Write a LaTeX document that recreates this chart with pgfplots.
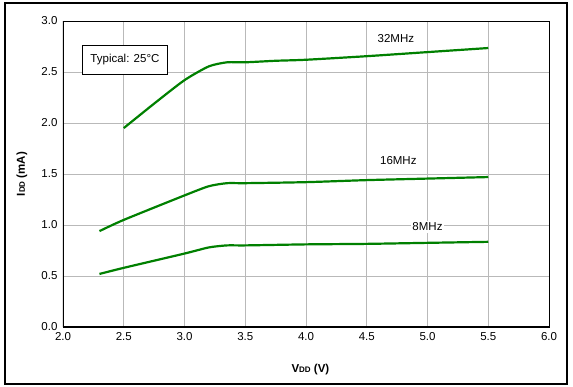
\documentclass[border=0pt]{standalone}
\usepackage{pgfplots}
\pgfplotsset{compat=1.18}
\usepackage{fontspec}
\setmainfont{Liberation Sans}
\definecolor{cgreen}{RGB}{0,128,0}
\tikzset{curve/.style={cgreen, line width=2.2pt, smooth, tension=0.4}}
\begin{document}
\begin{tikzpicture}
\path (-63pt,-60pt) rectangle (510pt,327pt);
\draw[line width=1.6pt] (-58pt,-57pt) rectangle (504pt,324pt);
\begin{axis}[
  at={(0pt,0pt)}, anchor=origin,
  scale only axis, width=486pt, height=306pt,
  xmin=2, xmax=6, ymin=0, ymax=3,
  xtick={2,2.5,...,6}, ytick={0,0.5,...,3},
  grid=major, major grid style={gray!55, line width=0.7pt},
  major tick length=0pt,
  axis line style={black, line width=0.8pt},
  tick label style={font=\fontsize{11.5}{13}\selectfont},
  /pgf/number format/assume math mode=true,
  /pgf/number format/.cd, fixed, fixed zerofill, precision=1, /tikz/.cd,
  xticklabel style={yshift=-2pt},
  yticklabel style={xshift=-2pt},
  xlabel={\bfseries\fontsize{11.5}{13}\selectfont V{\fontsize{8}{9}\selectfont DD} (V)},
  ylabel={\bfseries\fontsize{11.5}{13}\selectfont I{\fontsize{8}{9}\selectfont DD} (mA)},
  xlabel style={at={(axis description cs:0.509,0)}, anchor=center, yshift=-43pt},
  ylabel style={at={(axis description cs:0,0.5)}, anchor=center, yshift=41pt},
]
\addplot[curve] coordinates {(2.5,1.95) (2.75,2.19) (3.0,2.42) (3.2,2.555) (3.35,2.595) (3.5,2.595) (3.75,2.61) (4.0,2.62) (4.5,2.655) (5.0,2.695) (5.5,2.735)};
\addplot[curve] coordinates {(2.3,0.94) (2.5,1.05) (3.0,1.29) (3.2,1.38) (3.35,1.41) (3.5,1.41) (4.0,1.42) (4.5,1.44) (5.0,1.455) (5.5,1.47)};
\addplot[curve] coordinates {(2.3,0.52) (2.5,0.58) (3.0,0.72) (3.2,0.78) (3.35,0.80) (3.5,0.80) (4.0,0.81) (4.5,0.815) (5.0,0.825) (5.5,0.835)};
\draw[black, line width=1.6pt] (axis cs:2,3) -- (axis cs:2,0) -- (axis cs:6,0);
\node[font=\fontsize{11.5}{13}\selectfont] at (axis cs:4.74,2.83) {32MHz};
\node[font=\fontsize{11.5}{13}\selectfont] at (axis cs:4.76,1.63) {16MHz};
\node[font=\fontsize{11.5}{13}\selectfont, fill=white, inner sep=1.5pt] at (axis cs:5.0,0.98) {8MHz};
\node[draw=black, line width=0.8pt, fill=white, font=\fontsize{11.5}{13}\selectfont, minimum width=85pt, minimum height=29pt, inner sep=2pt] at (axis cs:2.51,2.62) {Typical: 25°C};
\end{axis}
\end{tikzpicture}
\end{document}
